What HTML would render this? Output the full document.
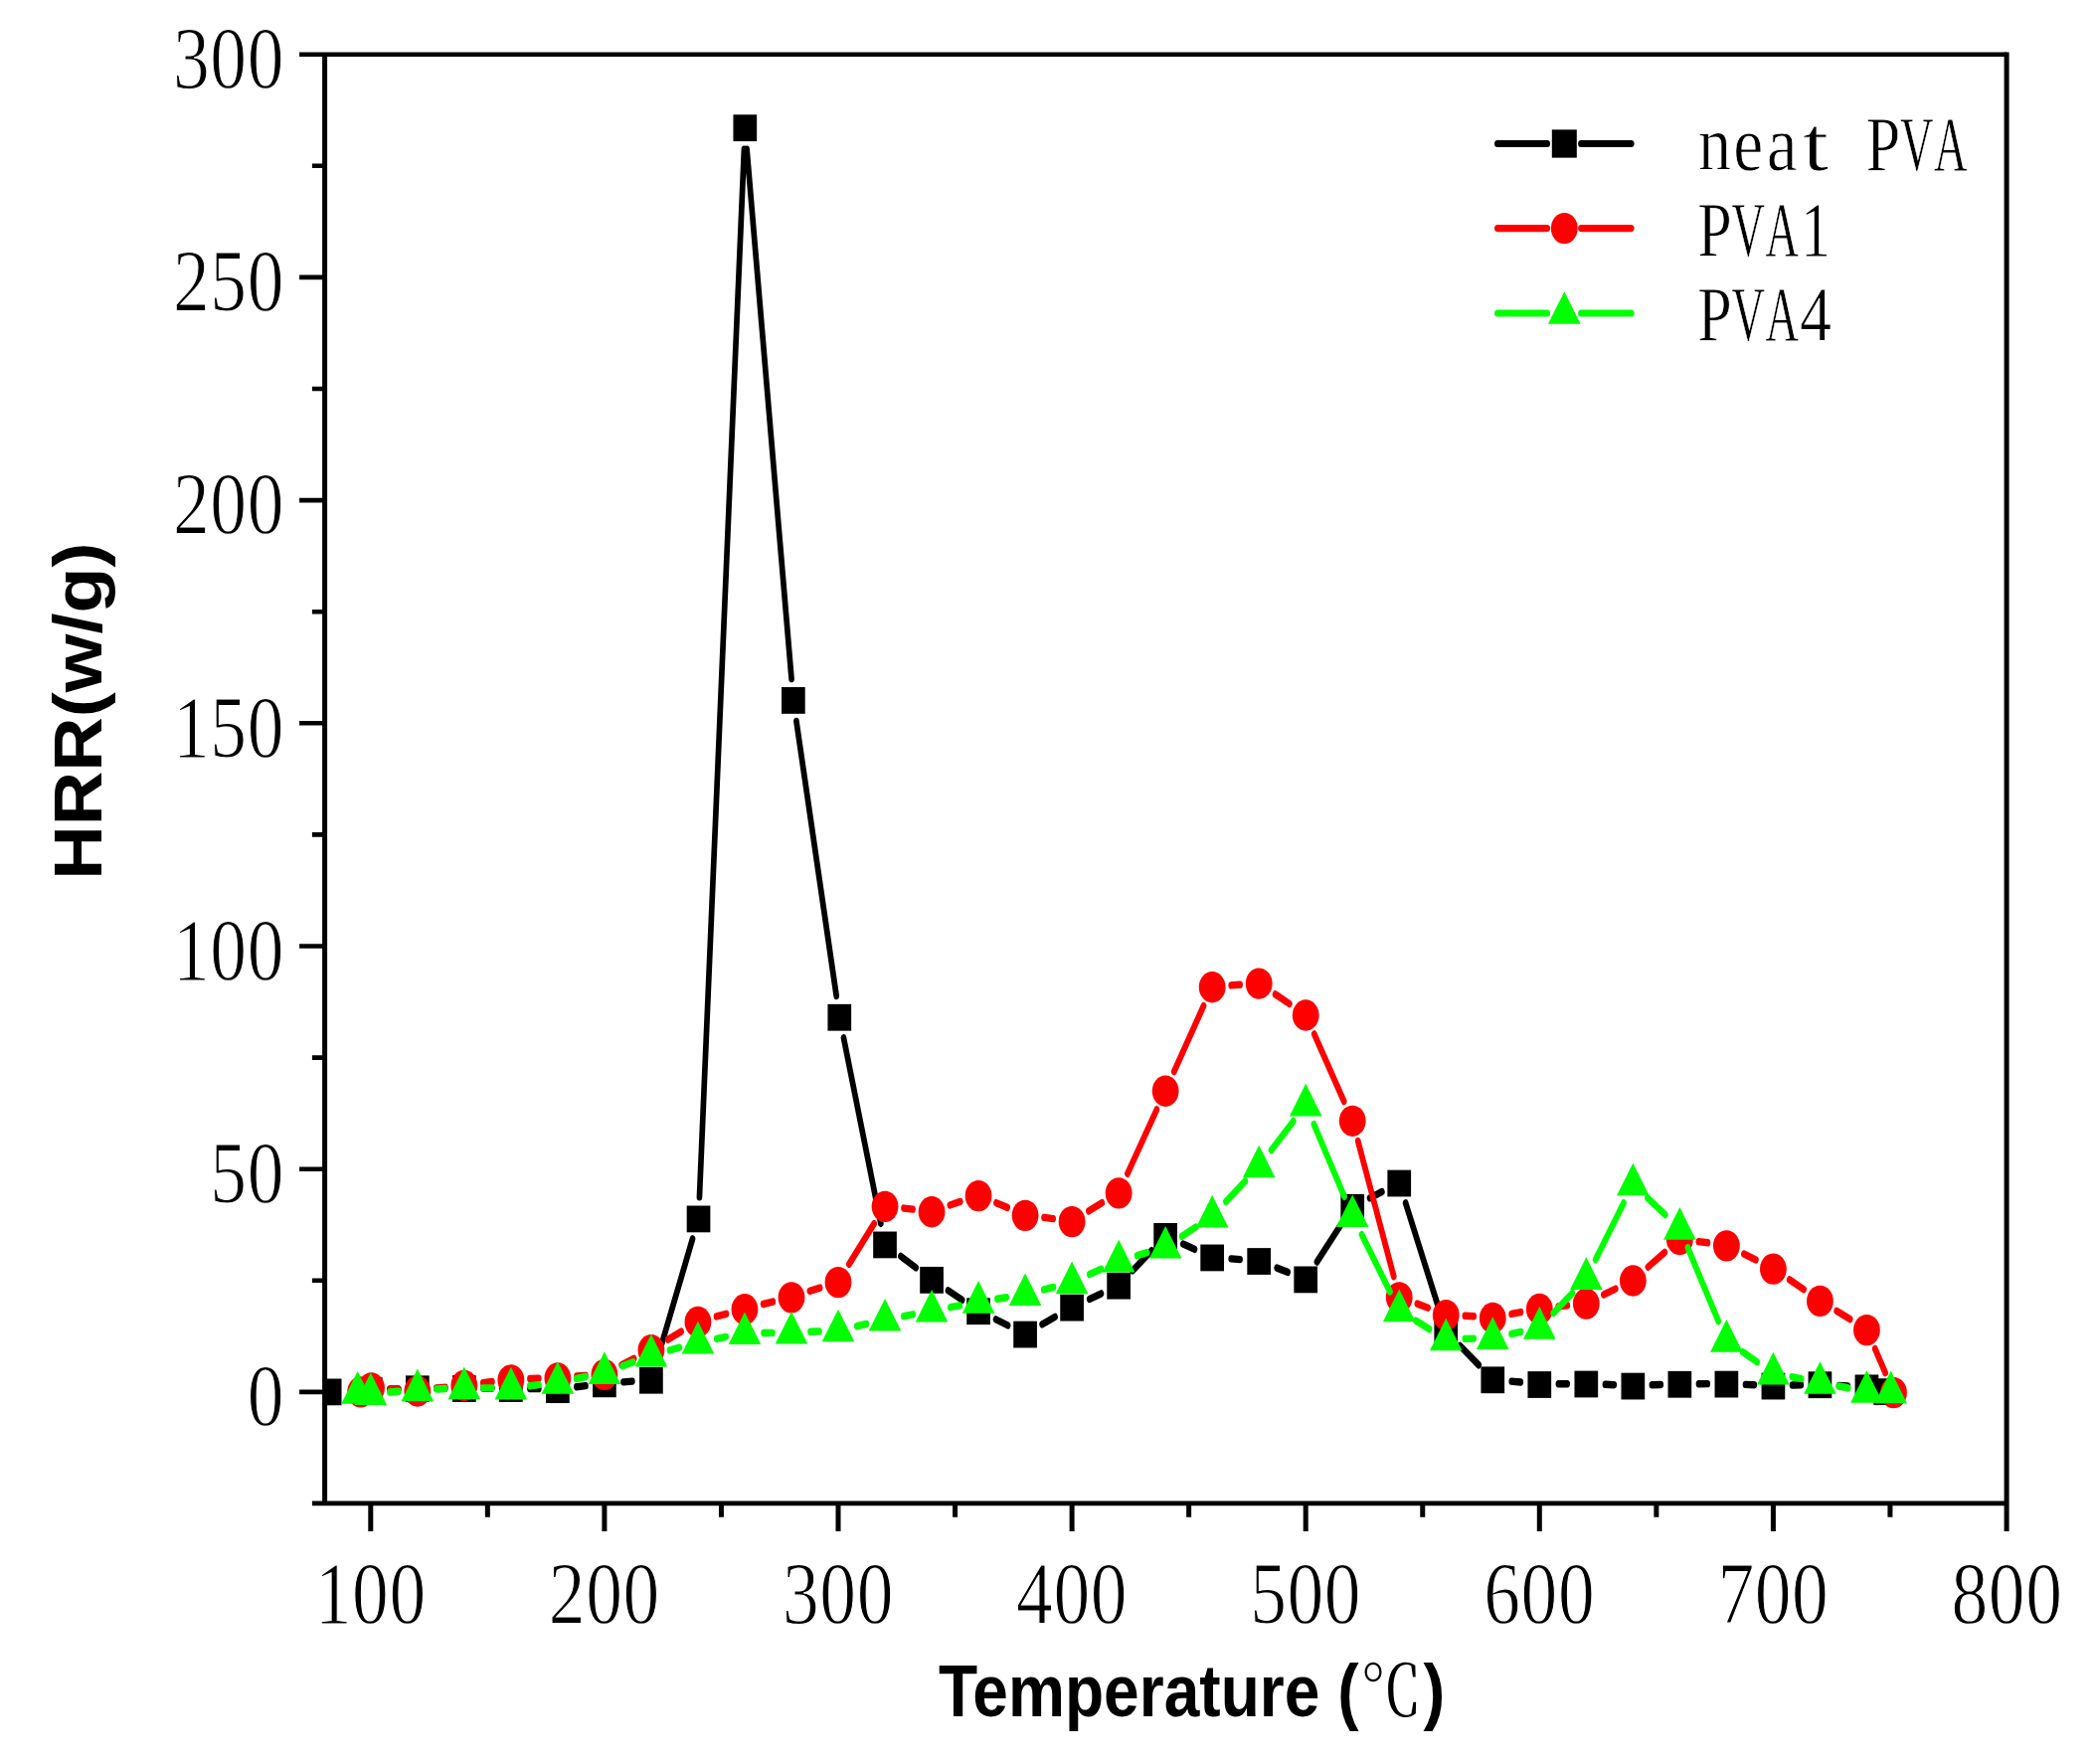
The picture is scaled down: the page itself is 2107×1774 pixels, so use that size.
<!DOCTYPE html>
<html lang="en"><head><meta charset="utf-8"><title>HRR vs Temperature</title>
<style>html,body{margin:0;padding:0;background:#fff;overflow:hidden}svg{display:block;filter:blur(0.65px)}.tk{font-family:"Liberation Serif","Noto Serif CJK SC",serif;font-size:73.5px;letter-spacing:0.6px;fill:#000;stroke:#fff;stroke-width:1px}.lg{font-family:"Liberation Serif","Noto Serif CJK SC",serif;font-size:68.4px;fill:#000;stroke:#fff;stroke-width:.7px}.ti{font-family:"Liberation Sans","Noto Sans CJK SC",sans-serif;font-weight:bold;font-size:65.4px;fill:#000}.ty{font-size:68.5px}</style></head><body>
<svg width="2107" height="1774" viewBox="0 0 2107 1774">
<rect x="0" y="0" width="2107" height="1774" fill="#fff"/>
<defs><clipPath id="pc"><rect x="326.6" y="48.41" width="1691.5" height="1289.56"/></clipPath></defs>
<g transform="scale(1,1.13)">
<g clip-path="url(#pc)">
<path transform="scale(1,1.15)" d="M391.89 1075.25L400.73 1074.99M438.92 1074.36L447.74 1074.33M485.94 1074.26L494.76 1074.26M532.96 1074.61L541.78 1074.77M579.87 1073.31L588.91 1072.45M626.96 1069.52L635.86 1069M660.93 1052.12L696.52 958.78M703.45 926.43L748.39 115.57M751.12 115.52L796.05 525.34M800.96 558.25L841.19 770.73M848.5 803.3L885.81 946.83M905.91 972.23L921.15 981.06M953.48 998.71L967.62 1005.97M1001.55 1021.09L1013.59 1025.68M1048.12 1024.85L1061.06 1019.16M1095.75 1005.31L1107.47 1001.1M1139.06 983.4L1158.2 967.82M1189.84 962.7L1201.46 966.79M1238.22 974.14L1247.12 974.67M1284.23 981.21L1295.15 984.5M1324.48 976.53L1348.94 947.45M1377.6 927.16L1389.86 922.31M1413.64 931.06L1447.86 1014.64M1468.38 1041.47L1487.16 1056.35M1520.31 1069L1529.27 1069.69M1567.4 1071L1576.22 1070.93M1614.41 1071.42L1623.25 1071.72M1661.43 1071.8L1670.27 1071.54M1708.46 1070.93L1717.28 1070.9M1755.47 1071.46L1764.31 1071.75M1802.49 1071.94L1811.33 1071.75M1849.49 1072.31L1858.37 1072.76" stroke="#000" stroke-width="5.7" stroke-linecap="round" fill="none"/>
<g fill="#000">
<rect x="319.81" y="1227" width="23.7" height="23.7"/>
<rect x="360.95" y="1225.81" width="23.7" height="23.7"/>
<rect x="407.97" y="1224.22" width="23.7" height="23.7"/>
<rect x="454.99" y="1224.02" width="23.7" height="23.7"/>
<rect x="502.01" y="1224.02" width="23.7" height="23.7"/>
<rect x="549.03" y="1225.02" width="23.7" height="23.7"/>
<rect x="596.05" y="1219.86" width="23.7" height="23.7"/>
<rect x="643.07" y="1216.68" width="23.7" height="23.7"/>
<rect x="690.68" y="1073.04" width="23.7" height="23.7"/>
<rect x="737.46" y="102.03" width="23.7" height="23.7"/>
<rect x="786.01" y="611.54" width="23.7" height="23.7"/>
<rect x="832.44" y="893.68" width="23.7" height="23.7"/>
<rect x="878.17" y="1096.05" width="23.7" height="23.7"/>
<rect x="925.19" y="1127.4" width="23.7" height="23.7"/>
<rect x="972.21" y="1155.18" width="23.7" height="23.7"/>
<rect x="1019.23" y="1175.81" width="23.7" height="23.7"/>
<rect x="1066.25" y="1152" width="23.7" height="23.7"/>
<rect x="1113.27" y="1132.56" width="23.7" height="23.7"/>
<rect x="1160.29" y="1088.51" width="23.7" height="23.7"/>
<rect x="1207.31" y="1107.56" width="23.7" height="23.7"/>
<rect x="1254.33" y="1110.73" width="23.7" height="23.7"/>
<rect x="1301.35" y="1127" width="23.7" height="23.7"/>
<rect x="1348.37" y="1062.72" width="23.7" height="23.7"/>
<rect x="1395.39" y="1041.29" width="23.7" height="23.7"/>
<rect x="1442.41" y="1173.43" width="23.7" height="23.7"/>
<rect x="1489.43" y="1216.29" width="23.7" height="23.7"/>
<rect x="1536.45" y="1220.45" width="23.7" height="23.7"/>
<rect x="1583.47" y="1220.02" width="23.7" height="23.7"/>
<rect x="1630.49" y="1221.84" width="23.7" height="23.7"/>
<rect x="1677.51" y="1220.25" width="23.7" height="23.7"/>
<rect x="1724.53" y="1220.09" width="23.7" height="23.7"/>
<rect x="1771.55" y="1221.84" width="23.7" height="23.7"/>
<rect x="1818.57" y="1220.65" width="23.7" height="23.7"/>
<rect x="1865.59" y="1223.43" width="23.7" height="23.7"/>
<rect x="1884.4" y="1226.8" width="23.7" height="23.7"/>
</g>
<path transform="scale(1,1.15)" d="M392.57 1074.74L400.75 1075.16M438.81 1074.41L447.85 1073.59M485.83 1070.1L494.87 1069.27M532.95 1066.97L541.79 1066.71M579.94 1065.04L588.84 1064.51M625.22 1056.4L637.6 1051.41M671.78 1036.63L685.08 1030.49M720.51 1018.81L730.39 1016.75M767.6 1009.24L777.34 1007.35M814.34 999.14L824.64 996.57M853.92 978.37L879.1 946.98M909.02 935.03L918.04 935.82M955.32 932.67L965.78 929.91M1001.97 930.86L1013.17 934.48M1050.05 942.2L1059.13 943.14M1094.91 937.2L1108.31 930.9M1133.9 908.27L1163.36 858.77M1180.8 829.22L1210.5 778.45M1238.22 762.54L1247.12 762.01M1282.56 769.43L1296.82 776.85M1321.74 800.24L1351.68 852.28M1365.7 883.04L1401.76 987.82M1425.36 1008.97L1436.14 1012.1M1473.33 1018.26L1482.21 1018.68M1520.11 1016.83L1529.47 1015.45M1567.3 1011.02L1576.32 1010.22M1612.84 1001.93L1624.82 997.41M1657.4 980.57L1674.3 969.1M1708.33 960.83L1717.41 961.76M1753.87 970.38L1765.91 974.98M1799.72 990.27L1814.1 997.86M1847.17 1014.47L1860.69 1020.92M1885.77 1043.84L1896.14 1062.43" stroke="#f00" stroke-width="5.7" stroke-linecap="round" fill="none"/>
<g fill="#f00">
<ellipse cx="362.69" cy="1238.85" rx="13.4" ry="13.85"/>
<ellipse cx="373.51" cy="1235.28" rx="13.4" ry="13.85"/>
<ellipse cx="419.82" cy="1238.06" rx="13.4" ry="13.85"/>
<ellipse cx="466.84" cy="1233.1" rx="13.4" ry="13.85"/>
<ellipse cx="513.86" cy="1228.14" rx="13.4" ry="13.85"/>
<ellipse cx="560.88" cy="1226.55" rx="13.4" ry="13.85"/>
<ellipse cx="607.9" cy="1223.37" rx="13.4" ry="13.85"/>
<ellipse cx="654.92" cy="1201.55" rx="13.4" ry="13.85"/>
<ellipse cx="701.94" cy="1176.55" rx="13.4" ry="13.85"/>
<ellipse cx="748.96" cy="1165.24" rx="13.4" ry="13.85"/>
<ellipse cx="795.98" cy="1154.72" rx="13.4" ry="13.85"/>
<ellipse cx="843" cy="1141.23" rx="13.4" ry="13.85"/>
<ellipse cx="890.02" cy="1073.77" rx="13.4" ry="13.85"/>
<ellipse cx="937.04" cy="1078.54" rx="13.4" ry="13.85"/>
<ellipse cx="984.06" cy="1064.25" rx="13.4" ry="13.85"/>
<ellipse cx="1031.08" cy="1081.71" rx="13.4" ry="13.85"/>
<ellipse cx="1078.1" cy="1087.27" rx="13.4" ry="13.85"/>
<ellipse cx="1125.12" cy="1061.87" rx="13.4" ry="13.85"/>
<ellipse cx="1172.14" cy="971" rx="13.4" ry="13.85"/>
<ellipse cx="1219.16" cy="878.54" rx="13.4" ry="13.85"/>
<ellipse cx="1266.18" cy="875.37" rx="13.4" ry="13.85"/>
<ellipse cx="1313.2" cy="903.54" rx="13.4" ry="13.85"/>
<ellipse cx="1360.22" cy="997.59" rx="13.4" ry="13.85"/>
<ellipse cx="1407.24" cy="1154.72" rx="13.4" ry="13.85"/>
<ellipse cx="1454.26" cy="1170.4" rx="13.4" ry="13.85"/>
<ellipse cx="1501.28" cy="1172.98" rx="13.4" ry="13.85"/>
<ellipse cx="1548.3" cy="1165.04" rx="13.4" ry="13.85"/>
<ellipse cx="1595.32" cy="1160.28" rx="13.4" ry="13.85"/>
<ellipse cx="1642.34" cy="1139.84" rx="13.4" ry="13.85"/>
<ellipse cx="1689.36" cy="1103.14" rx="13.4" ry="13.85"/>
<ellipse cx="1736.38" cy="1108.69" rx="13.4" ry="13.85"/>
<ellipse cx="1783.4" cy="1129.33" rx="13.4" ry="13.85"/>
<ellipse cx="1830.42" cy="1157.9" rx="13.4" ry="13.85"/>
<ellipse cx="1877.44" cy="1183.69" rx="13.4" ry="13.85"/>
<ellipse cx="1904.48" cy="1239.44" rx="13.4" ry="13.85"/>
</g>
<path transform="scale(1,1.15)" d="M391.85 1077.37L400.77 1076.81M438.91 1074.99L447.75 1074.7M485.94 1074.16L494.76 1074.19M532.85 1072.52L541.89 1071.69M579.66 1066.92L589.12 1065.39M626.04 1057.17L636.78 1054.1M673.47 1044.96L683.39 1042.85M720.75 1036.01L730.15 1034.56M768.06 1031.52L776.88 1031.46M815.06 1030.62L823.92 1030.29M861.72 1026.3L871.3 1024.61M908.85 1018.55L918.21 1017.18M955.87 1011.65L965.23 1010.28M1002.97 1005.16L1012.17 1004.01M1049.72 998.03L1059.46 996.14M1095.78 986.22L1107.44 982.07M1143.6 971.58L1153.66 969.29M1188.65 956.74L1202.65 949.65M1233.04 929.89L1252.3 914.06M1278.62 890.06L1300.76 867.66M1321.41 870.05L1352.01 925.96M1369.54 955.44L1397.92 999.58M1423.99 1022.05L1437.51 1028.51M1473.35 1036.07L1482.19 1035.88M1520.03 1032.29L1529.55 1030.69M1562.24 1016.17L1581.38 1000.59M1604.67 974.76L1632.99 930.93M1657 927.1L1674.7 939.96M1697.49 965.63L1728.25 1022.5M1752.64 1046.23L1767.14 1054M1802.21 1065.6L1811.61 1067.05M1849.25 1072.71L1858.61 1074.08" stroke="#0f0" stroke-width="5.7" stroke-linecap="round" fill="none"/>
<g fill="#0f0">
<path d="M359.63 1220.41L375.93 1249.26L343.33 1249.26Z"/>
<path d="M372.8 1221.6L389.1 1250.45L356.5 1250.45Z"/>
<path d="M419.82 1218.19L436.12 1247.04L403.52 1247.04Z"/>
<path d="M466.84 1216.44L483.14 1245.29L450.54 1245.29Z"/>
<path d="M513.86 1216.64L530.16 1245.49L497.56 1245.49Z"/>
<path d="M560.88 1211.68L577.18 1240.53L544.58 1240.53Z"/>
<path d="M607.9 1202.95L624.2 1231.8L591.6 1231.8Z"/>
<path d="M654.92 1187.47L671.22 1216.32L638.62 1216.32Z"/>
<path d="M701.94 1175.97L718.24 1204.82L685.64 1204.82Z"/>
<path d="M748.96 1167.63L765.26 1196.48L732.66 1196.48Z"/>
<path d="M795.98 1167.24L812.28 1196.09L779.68 1196.09Z"/>
<path d="M843 1165.25L859.3 1194.1L826.7 1194.1Z"/>
<path d="M890.02 1155.73L906.32 1184.58L873.72 1184.58Z"/>
<path d="M937.04 1147.79L953.34 1176.64L920.74 1176.64Z"/>
<path d="M984.06 1139.86L1000.36 1168.71L967.76 1168.71Z"/>
<path d="M1031.08 1133.11L1047.38 1161.96L1014.78 1161.96Z"/>
<path d="M1078.1 1122.6L1094.4 1151.45L1061.8 1151.45Z"/>
<path d="M1125.12 1103.35L1141.42 1132.2L1108.82 1132.2Z"/>
<path d="M1172.14 1091.05L1188.44 1119.9L1155.84 1119.9Z"/>
<path d="M1219.16 1063.67L1235.46 1092.52L1202.86 1092.52Z"/>
<path d="M1266.18 1019.23L1282.48 1048.08L1249.88 1048.08Z"/>
<path d="M1313.2 964.46L1329.5 993.31L1296.9 993.31Z"/>
<path d="M1360.22 1063.27L1376.52 1092.12L1343.92 1092.12Z"/>
<path d="M1407.24 1147.4L1423.54 1176.25L1390.94 1176.25Z"/>
<path d="M1454.26 1173.19L1470.56 1202.04L1437.96 1202.04Z"/>
<path d="M1501.28 1172L1517.58 1200.85L1484.98 1200.85Z"/>
<path d="M1548.3 1162.87L1564.6 1191.72L1532 1191.72Z"/>
<path d="M1595.32 1118.83L1611.62 1147.68L1579.02 1147.68Z"/>
<path d="M1642.34 1035.1L1658.64 1063.95L1626.04 1063.95Z"/>
<path d="M1689.36 1074.38L1705.66 1103.23L1673.06 1103.23Z"/>
<path d="M1736.38 1174.38L1752.68 1203.23L1720.08 1203.23Z"/>
<path d="M1783.4 1203.35L1799.7 1232.2L1767.1 1232.2Z"/>
<path d="M1830.42 1211.68L1846.72 1240.53L1814.12 1240.53Z"/>
<path d="M1877.44 1219.62L1893.74 1248.47L1861.14 1248.47Z"/>
<path d="M1901.66 1220.01L1917.96 1248.86L1885.36 1248.86Z"/>
</g>
</g>
<path d="M1506.15 127.88L1555.95 127.88M1590.25 127.88L1640.45 127.88" stroke="#000" stroke-width="6.3" stroke-linecap="round" fill="none"/>
<g fill="#000"><rect x="1560.8" y="115.38" width="25" height="25"/></g>
<path d="M1506.15 203.19L1555.95 203.19M1590.25 203.19L1640.45 203.19" stroke="#f00" stroke-width="6.3" stroke-linecap="round" fill="none"/>
<g fill="#f00"><ellipse cx="1573.3" cy="203.19" rx="13.4" ry="13.85"/></g>
<path d="M1506.15 278.76L1555.95 278.76M1590.25 278.76L1640.45 278.76" stroke="#0f0" stroke-width="6.3" stroke-linecap="round" fill="none"/>
<g fill="#0f0"><path d="M1573.3 259.53L1589.6 288.38L1557 288.38Z"/></g>
<text class="lg" y="151.33" xml:space="preserve"><tspan x="1707.9" textLength="33" lengthAdjust="spacingAndGlyphs">n</tspan><tspan x="1743.3" textLength="30" lengthAdjust="spacingAndGlyphs">e</tspan><tspan x="1776.7" textLength="31" lengthAdjust="spacingAndGlyphs">a</tspan><tspan x="1813.1" textLength="26" lengthAdjust="spacingAndGlyphs">t</tspan> <tspan x="1876.65" textLength="34.5" lengthAdjust="spacingAndGlyphs">P</tspan><tspan x="1911.05" textLength="33.5" lengthAdjust="spacingAndGlyphs">V</tspan><tspan x="1944.95" textLength="33.5" lengthAdjust="spacingAndGlyphs">A</tspan></text>
<text class="lg" y="227.08" xml:space="preserve"><tspan x="1707.15" textLength="34.5" lengthAdjust="spacingAndGlyphs">P</tspan><tspan x="1741.55" textLength="33.5" lengthAdjust="spacingAndGlyphs">V</tspan><tspan x="1775.45" textLength="33.5" lengthAdjust="spacingAndGlyphs">A</tspan><tspan x="1811.1" textLength="30" lengthAdjust="spacingAndGlyphs">1</tspan></text>
<text class="lg" y="302.3" xml:space="preserve"><tspan x="1707.15" textLength="34.5" lengthAdjust="spacingAndGlyphs">P</tspan><tspan x="1741.55" textLength="33.5" lengthAdjust="spacingAndGlyphs">V</tspan><tspan x="1775.45" textLength="33.5" lengthAdjust="spacingAndGlyphs">A</tspan><tspan x="1810.1" textLength="32" lengthAdjust="spacingAndGlyphs">4</tspan></text>
<text class="ti ty" transform="translate(102.2,783.01) rotate(-90)" textLength="300.4" lengthAdjust="spacingAndGlyphs">HRR(w/g)</text>
<text class="ti" y="1527.79"><tspan x="944" textLength="422.5" lengthAdjust="spacingAndGlyphs">Temperature (</tspan><tspan x="1368" style="font-family:'Noto Serif CJK SC',serif;font-weight:normal;font-size:62px">℃</tspan><tspan x="1431.5">)</tspan></text>
</g>
<g transform="scale(1,1.2)">
<text class="tk" text-anchor="end" x="286" y="1194.42">0</text>
<text class="tk" text-anchor="end" x="286" y="1007.58">50</text>
<text class="tk" text-anchor="end" x="286" y="820.75">100</text>
<text class="tk" text-anchor="end" x="286" y="633.92">150</text>
<text class="tk" text-anchor="end" x="286" y="447.08">200</text>
<text class="tk" text-anchor="end" x="286" y="260.25">250</text>
<text class="tk" text-anchor="end" x="286" y="73.42">300</text>
<text class="tk" text-anchor="middle" x="372.8" y="1360.25">100</text>
<text class="tk" text-anchor="middle" x="607.9" y="1360.25">200</text>
<text class="tk" text-anchor="middle" x="843" y="1360.25">300</text>
<text class="tk" text-anchor="middle" x="1078.1" y="1360.25">400</text>
<text class="tk" text-anchor="middle" x="1313.2" y="1360.25">500</text>
<text class="tk" text-anchor="middle" x="1548.3" y="1360.25">600</text>
<text class="tk" text-anchor="middle" x="1783.4" y="1360.25">700</text>
<text class="tk" text-anchor="middle" x="2018.5" y="1360.25">800</text>
</g>
<path d="M326.6 54.7L326.6 1511.9M2018.1 52.4L2018.1 1540.1000000000001M372.8 1511.9L372.8 1540.1M490.35 1511.9L490.35 1525.8M607.9 1511.9L607.9 1540.1M725.45 1511.9L725.45 1525.8M843 1511.9L843 1540.1M960.55 1511.9L960.55 1525.8M1078.1 1511.9L1078.1 1540.1M1195.65 1511.9L1195.65 1525.8M1313.2 1511.9L1313.2 1540.1M1430.75 1511.9L1430.75 1525.8M1548.3 1511.9L1548.3 1540.1M1665.85 1511.9L1665.85 1525.8M1783.4 1511.9L1783.4 1540.1M1900.95 1511.9L1900.95 1525.8" stroke="#000" stroke-width="5.0" fill="none"/>
<path d="M301.1 54.7L2018.1 54.7M313.90000000000003 1511.9L2018.1 1511.9M301.1 1399.9L326.6 1399.9M313.9 1287.8L326.6 1287.8M301.1 1175.7L326.6 1175.7M313.9 1063.6L326.6 1063.6M301.1 951.5L326.6 951.5M313.9 839.4L326.6 839.4M301.1 727.3L326.6 727.3M313.9 615.2L326.6 615.2M301.1 503.1L326.6 503.1M313.9 391L326.6 391M301.1 278.9L326.6 278.9M313.9 166.8L326.6 166.8" stroke="#000" stroke-width="4.6" fill="none"/>
</svg></body></html>
